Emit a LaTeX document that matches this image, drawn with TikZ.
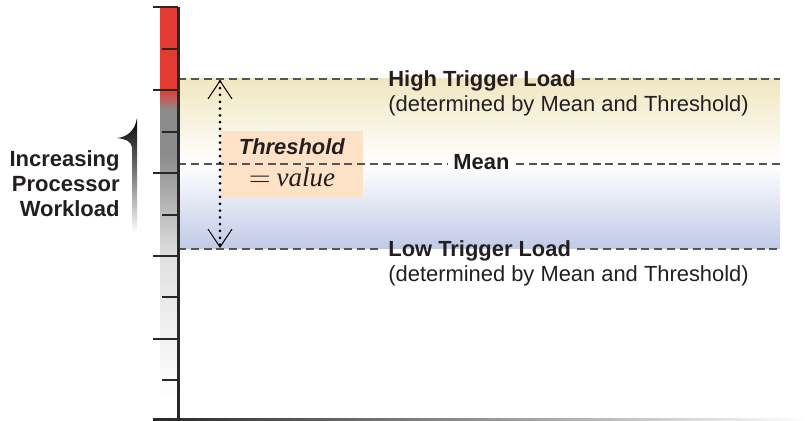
\documentclass[tikz,border=0pt,11pt]{standalone}
\usepackage{fontspec}
\setmainfont{Liberation Sans}
\newfontfamily\valuefont{Liberation Serif}
\usepackage{tikz}
\usetikzlibrary{positioning, arrows.meta}

\definecolor{barred}{RGB}{226,59,51}
\definecolor{bargray}{RGB}{140,140,140}
\definecolor{barlight}{RGB}{224,224,224}
\definecolor{highband}{RGB}{240,231,193}
\definecolor{lowband}{RGB}{192,202,230}
\definecolor{thrfill}{RGB}{253,226,200}
\definecolor{linegray}{RGB}{85,85,85}
\definecolor{axisdark}{RGB}{40,40,40}
\definecolor{textdark}{RGB}{35,31,32}

\tikzset{
x=0.5pt, y=-0.5pt, % one unit is one pixel of the reference, y runs downwards
axis/.style={draw=axisdark, line width=1.5pt}, % the workload scale
major/.style={draw=axisdark, line width=1.2pt}, % long ticks
minor/.style={draw=axisdark, line width=0.7pt}, % short ticks
trigger/.style={draw=linegray, line width=0.75pt, dash pattern=on 4pt off 2.4pt}, % dashed load lines
load/.style={font=\bfseries, text=textdark, inner xsep=3pt, inner ysep=0pt}, % bold line labels
note/.style={text=textdark, inner xsep=3pt, inner ysep=0pt}, % second line of a label
thrbox/.style={fill=thrfill, minimum width=71pt, minimum height=33pt, inner sep=0pt}, % threshold box
span/.style={draw=black, line width=1.5pt, line cap=round, dash pattern=on 0pt off 3.4pt,
  {Straight Barb[length=9pt,width=12pt,line width=0.5pt]}-{Straight Barb[length=9pt,width=12pt,line width=0.5pt]}}, % dotted range arrow
}

\begin{document}
\begin{tikzpicture}
\useasboundingbox (0,0) rectangle (808,421);

% bands between the trigger loads
\shade[top color=highband, bottom color=white] (178,79) rectangle (780,164);
\shade[top color=white, bottom color=lowband] (178,164) rectangle (780,249);

% coloured workload bar
\fill[barred] (160,7) rectangle (178,91);
\shade[top color=barred, bottom color=bargray] (160,90) rectangle (178,110);
\fill[bargray] (160,109.5) rectangle (178,155);
\shade[top color=bargray, bottom color=barlight] (160,154.5) rectangle (178,256);
\shade[top color=barlight, bottom color=white] (160,255.5) rectangle (178,400);

% threshold box
\node[thrbox] (thr_box) at (292,164) {};
\node[load, anchor=base] (thr_name) at (292,155) {\textit{Threshold}};
\node[text=textdark, inner sep=0pt, below=16pt of thr_name.base, anchor=base] (thr_value) {\valuefont\fontsize{13.5}{15}\selectfont $=$\hspace{3pt}\textit{value}};

% labels
\node[load, anchor=base west] (hi_load) at (382,87) {High Trigger Load};
\node[note, below=12.5pt of hi_load.base west, anchor=base west] (hi_note) {(determined by Mean and Threshold)};
\node[load, anchor=base west] (mean_lbl) at (447,170) {Mean};
\node[load, anchor=base west] (lo_load) at (382,257) {Low Trigger Load};
\node[note, below=12.5pt of lo_load.base west, anchor=base west] (lo_note) {(determined by Mean and Threshold)};

% dashed lines
\coordinate (hi_start) at (178,79);
\coordinate (hi_end) at (780,79);
\coordinate (mean_start) at (178,164);
\coordinate (mean_end) at (780,164);
\coordinate (lo_start) at (178,249);
\coordinate (lo_end) at (780,249);
\draw[trigger] (hi_start) -- (hi_start -| hi_load.west) (hi_load.east |- hi_end) -- (hi_end);
\draw[trigger] (mean_start) -- (mean_start -| mean_lbl.west) (mean_lbl.east |- mean_end) -- (mean_end);
\draw[trigger] (lo_start) -- (lo_start -| lo_load.west) (lo_load.east |- lo_end) -- (lo_end);

% range of the threshold
\coordinate (thr_top) at (220,80);
\coordinate (thr_bot) at (220,248);
\draw[span] (thr_top) -- (thr_bot);

% scale with ticks
\shade[left color=axisdark, middle color=black!55, right color=white] (153,418.5) rectangle (808,421);
\draw[axis] (178,7) -- (178,421);
\foreach \y in {7,90,173,256,339}
  \draw[major] (153,\y) -- (178,\y);
\foreach \y in {49,132,215,297,380}
  \draw[minor] (162,\y) -- (178,\y);

% workload label and its rising arrow
\node[font=\bfseries\fontsize{11}{12.5}\selectfont, align=right, inner sep=0pt, text=textdark, anchor=east] (work_lbl) at (120,184) {Increasing\\Processor\\Workload};
\shade[top color=black, middle color=black!70, bottom color=white]
  (137,233) -- (137,118) .. controls (135,131) and (127,137) .. (117,138)
  .. controls (125,139) and (131,141) .. (132,147) -- (132,233) -- cycle;
\end{tikzpicture}
\end{document}
